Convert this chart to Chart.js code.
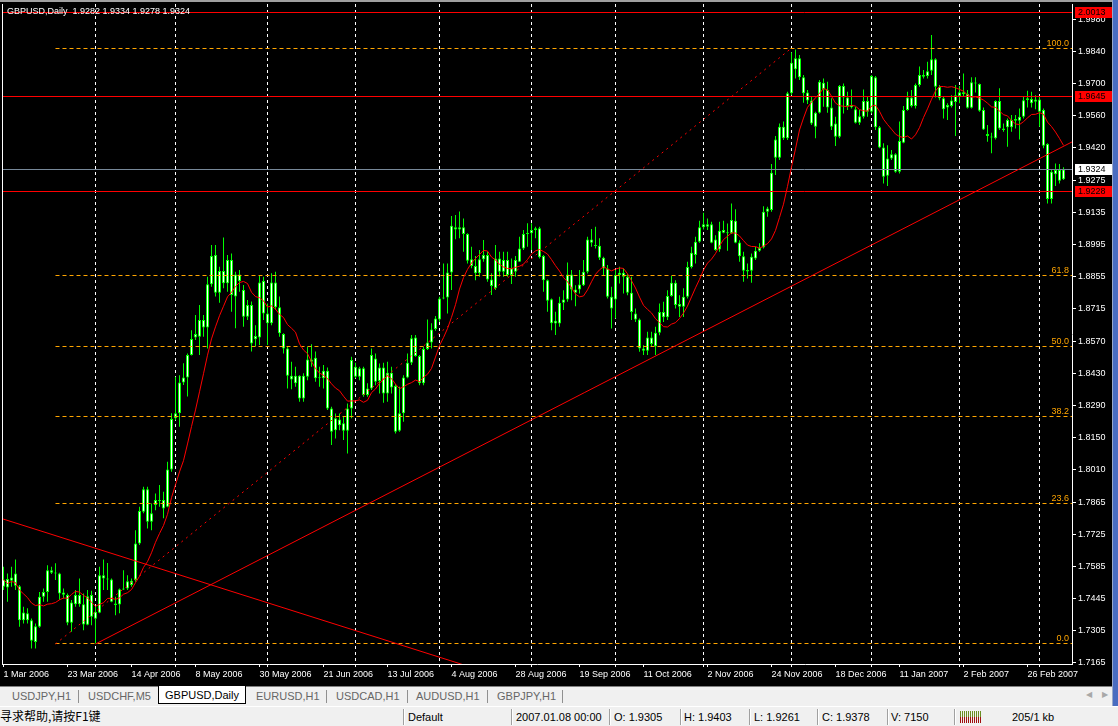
<!DOCTYPE html>
<html>
<head>
<meta charset="utf-8">
<title>GBPUSD,Daily</title>
<script src="https://cdn.jsdelivr.net/npm/chart.js@4.4.1/dist/chart.umd.min.js"></script>
<style>
  body { margin: 0; background: #d4d0c8; }
  #wrap { position: relative; width: 1118px; height: 726px; overflow: hidden; background: #f0f0f0; font-family: "Liberation Sans", Arial, sans-serif; }
  #topline { position: absolute; left: 0; top: 0; width: 1112px; height: 2px; background: #a0a0a0; }
  #chart { position: absolute; left: 0; top: 2px; background: #000; }
  #rside { position: absolute; left: 1112px; top: 0; width: 6px; height: 706px; background: #4a6cc0; border-left: 1px solid #9aa8c8; box-sizing: border-box; }
  #tabs { position: absolute; left: 0; top: 686px; width: 1112px; height: 20px; background: #f0f0f0; border-top: 1px solid #808080; box-sizing: border-box; }
  .tab { position: absolute; top: 2px; font-size: 11px; color: #666; line-height: 15px; white-space: nowrap; }
  .tab.active { top: -1px; height: 18px; line-height: 18px; background: #fff; color: #000; border: 1px solid #000; border-top: none; box-sizing: border-box; text-align: center; }
  .tsep { position: absolute; top: 3px; width: 1px; height: 13px; background: #909090; }
  .arr { position: absolute; top: 3px; font-size: 8px; color: #a8a8a8; }
  #status { position: absolute; left: 0; top: 706px; width: 1118px; height: 20px; background: #f0f0f0; border-top: 1px solid #fff; box-sizing: border-box; }
  .st { position: absolute; top: 3px; font-size: 11px; color: #000; line-height: 14px; white-space: nowrap; }
  .ssep { position: absolute; top: 2px; width: 1px; height: 16px; background: #a0a0a0; border-right: 1px solid #fff; }
  #conn { position: absolute; left: 960px; top: 4px; width: 22px; height: 12px;
          background: repeating-linear-gradient(90deg, transparent 0 1px, #f0f0f0 1px 2px),
                      linear-gradient(#6b8e23 0 50%, #a01010 50% 100%); }
</style>
</head>
<body>
<div id="wrap">
  <div id="topline"></div>
  <canvas id="chart" width="1112" height="684"></canvas>
  <div id="rside"></div>
  <div id="tabs">
    <div class="tab" style="left:12px">USDJPY,H1</div>
    <div class="tsep" style="left:78px"></div>
    <div class="tab" style="left:88px">USDCHF,M5</div>
    <div class="tab active" style="left:158px;width:88px">GBPUSD,Daily</div>
    <div class="tab" style="left:256px">EURUSD,H1</div>
    <div class="tsep" style="left:326px"></div>
    <div class="tab" style="left:336px">USDCAD,H1</div>
    <div class="tsep" style="left:407px"></div>
    <div class="tab" style="left:416px">AUDUSD,H1</div>
    <div class="tsep" style="left:487px"></div>
    <div class="tab" style="left:497px">GBPJPY,H1</div>
    <div class="tsep" style="left:562px"></div>
    <div class="arr" style="left:1086px">&#9664;</div>
    <div class="arr" style="left:1102px">&#9654;</div>
  </div>
  <div id="status">
    <div class="st" style="left:0px;font-family:'Noto Sans CJK SC',sans-serif;font-size:12px;top:2px">寻求帮助,请按F1键</div>
    <div class="ssep" style="left:403px"></div>
    <div class="st" style="left:408px">Default</div>
    <div class="ssep" style="left:511px"></div>
    <div class="st" style="left:516px">2007.01.08 00:00</div>
    <div class="ssep" style="left:609px"></div>
    <div class="st" style="left:614px">O: 1.9305</div>
    <div class="ssep" style="left:680px"></div>
    <div class="st" style="left:684px">H: 1.9403</div>
    <div class="ssep" style="left:749px"></div>
    <div class="st" style="left:754px">L: 1.9261</div>
    <div class="ssep" style="left:817px"></div>
    <div class="st" style="left:822px">C: 1.9378</div>
    <div class="ssep" style="left:887px"></div>
    <div class="st" style="left:891px">V: 7150</div>
    <div class="ssep" style="left:954px"></div>
    <div id="conn"></div>
    <div class="st" style="left:1012px">205/1 kb</div>
  </div>
</div>
<script>
// daily bars, 1 Mar 2006 .. 9 Mar 2007 (index 0..265)
const opens = [
  1.7497,1.7531,1.7524,1.7556,1.7500,1.7351,1.7381,1.7351,1.7256,1.7322,
  1.7454,1.7475,1.7570,1.7559,1.7556,1.7472,1.7461,1.7340,1.7421,1.7461,
  1.7421,1.7331,1.7461,1.7357,1.7384,1.7548,1.7534,1.7529,1.7424,1.7420,
  1.7486,1.7490,1.7524,1.7527,1.7687,1.7826,1.7924,1.7782,1.7855,1.7877,
  1.7877,1.7848,1.8011,1.8235,1.8257,1.8392,1.8414,1.8512,1.8589,1.8592,
  1.8665,1.8633,1.8822,1.8950,1.8785,1.8880,1.8826,1.8928,1.8768,1.8865,
  1.8797,1.8680,1.8731,1.8581,1.8589,1.8836,1.8694,1.8651,1.8830,1.8721,
  1.8604,1.8541,1.8421,1.8388,1.8421,1.8322,1.8417,1.8493,1.8500,1.8410,
  1.8410,1.8443,1.8278,1.8183,1.8230,1.8213,1.8181,1.8278,1.8461,1.8417,
  1.8454,1.8337,1.8366,1.8497,1.8398,1.8458,1.8344,1.8435,1.8376,1.8181,
  1.8257,1.8414,1.8478,1.8589,1.8508,1.8388,1.8538,1.8567,1.8626,1.8668,
  1.8760,1.8764,1.8873,1.9071,1.9062,1.9071,1.9042,1.8931,1.8902,1.8870,
  1.8931,1.8950,1.8843,1.8804,1.8935,1.8877,1.8928,1.8862,1.8877,1.8921,
  1.8979,1.9042,1.9045,1.9059,1.9067,1.8946,1.8840,1.8756,1.8650,1.8650,
  1.8741,1.8755,1.8865,1.8799,1.8799,1.8818,1.8877,1.9018,1.8993,1.8991,
  1.8938,1.8891,1.8767,1.8755,1.8862,1.8872,1.8855,1.8785,1.8694,1.8668,
  1.8541,1.8531,1.8589,1.8551,1.8610,1.8701,1.8677,1.8770,1.8828,1.8735,
  1.8723,1.8767,1.8898,1.8950,1.9008,1.9071,1.9085,1.9085,1.9018,1.8974,
  1.9059,1.9049,1.9045,1.9100,1.9005,1.8945,1.8884,1.8881,1.8935,1.8969,
  1.8983,1.9139,1.9147,1.9456,1.9376,1.9512,1.9461,1.9658,1.9811,1.9728,
  1.9728,1.9661,1.9626,1.9512,1.9573,1.9704,1.9672,1.9596,1.9526,1.9468,
  1.9690,1.9640,1.9607,1.9588,1.9529,1.9555,1.9624,1.9577,1.9728,1.9509,
  1.9421,1.9297,1.9373,1.9391,1.9315,1.9442,1.9585,1.9640,1.9602,1.9694,
  1.9738,1.9734,1.9757,1.9807,1.9687,1.9636,1.9596,1.9602,1.9620,1.9646,
  1.9663,1.9655,1.9595,1.9704,1.9699,1.9585,1.9480,1.9468,1.9461,1.9624,
  1.9504,1.9509,1.9541,1.9538,1.9538,1.9555,1.9628,1.9633,1.9621,1.9631,
  1.9585,1.9436,1.9195,1.9322,1.9322,1.9282
];
const highs = [
  1.7585,1.7556,1.7585,1.7617,1.7505,1.7410,1.7403,1.7359,1.7337,1.7475,
  1.7490,1.7592,1.7585,1.7600,1.7559,1.7490,1.7468,1.7439,1.7483,1.7534,
  1.7468,1.7483,1.7480,1.7410,1.7585,1.7617,1.7602,1.7534,1.7454,1.7490,
  1.7570,1.7548,1.7534,1.7745,1.7848,1.7935,1.7935,1.7862,1.7906,1.7943,
  1.7914,1.8045,1.8257,1.8417,1.8424,1.8476,1.8519,1.8621,1.8687,1.8731,
  1.8687,1.8855,1.8994,1.8994,1.8899,1.9027,1.8950,1.8957,1.8877,1.8884,
  1.8819,1.8753,1.8746,1.8643,1.8862,1.8855,1.8738,1.8870,1.8877,1.8768,
  1.8607,1.8548,1.8483,1.8461,1.8424,1.8432,1.8548,1.8559,1.8527,1.8461,
  1.8468,1.8458,1.8286,1.8256,1.8256,1.8242,1.8300,1.8505,1.8478,1.8461,
  1.8461,1.8388,1.8541,1.8519,1.8475,1.8478,1.8483,1.8461,1.8385,1.8373,
  1.8424,1.8519,1.8600,1.8600,1.8512,1.8548,1.8668,1.8651,1.8683,1.8767,
  1.8913,1.8913,1.9121,1.9125,1.9140,1.9110,1.9045,1.8986,1.8946,1.8972,
  1.9016,1.8964,1.8870,1.8994,1.8964,1.8964,1.8964,1.8935,1.8946,1.9030,
  1.9059,1.9089,1.9089,1.9074,1.9074,1.8950,1.8843,1.8760,1.8702,1.8767,
  1.8796,1.8917,1.8884,1.8818,1.8884,1.8928,1.9030,1.9064,1.9074,1.9023,
  1.8942,1.8906,1.8811,1.8884,1.8899,1.8891,1.8866,1.8855,1.8716,1.8672,
  1.8555,1.8614,1.8614,1.8636,1.8738,1.8745,1.8796,1.8858,1.8840,1.8774,
  1.8804,1.8920,1.8986,1.9030,1.9100,1.9135,1.9110,1.9096,1.9037,1.9096,
  1.9100,1.9088,1.9176,1.9150,1.9015,1.8964,1.8913,1.8957,1.8986,1.9001,
  1.9164,1.9161,1.9348,1.9471,1.9526,1.9534,1.9665,1.9838,1.9850,1.9826,
  1.9738,1.9672,1.9643,1.9577,1.9716,1.9723,1.9709,1.9636,1.9555,1.9694,
  1.9701,1.9665,1.9675,1.9599,1.9585,1.9675,1.9646,1.9738,1.9734,1.9515,
  1.9439,1.9431,1.9410,1.9395,1.9534,1.9602,1.9665,1.9672,1.9701,1.9775,
  1.9760,1.9796,1.9913,1.9811,1.9694,1.9646,1.9614,1.9650,1.9694,1.9690,
  1.9745,1.9672,1.9728,1.9728,1.9701,1.9596,1.9519,1.9485,1.9628,1.9680,
  1.9526,1.9548,1.9563,1.9563,1.9592,1.9646,1.9669,1.9665,1.9650,1.9643,
  1.9592,1.9439,1.9322,1.9351,1.9348,1.9334
];
const lows = [
  1.7483,1.7432,1.7497,1.7483,1.7322,1.7337,1.7337,1.7227,1.7227,1.7318,
  1.7432,1.7432,1.7553,1.7527,1.7439,1.7446,1.7329,1.7300,1.7410,1.7410,
  1.7307,1.7329,1.7329,1.7249,1.7381,1.7483,1.7483,1.7430,1.7373,1.7381,
  1.7483,1.7483,1.7497,1.7519,1.7680,1.7819,1.7753,1.7745,1.7833,1.7848,
  1.7797,1.7846,1.8001,1.8227,1.8198,1.8381,1.8330,1.8510,1.8578,1.8512,
  1.8592,1.8541,1.8811,1.8768,1.8741,1.8804,1.8789,1.8702,1.8629,1.8789,
  1.8636,1.8665,1.8527,1.8551,1.8556,1.8665,1.8556,1.8643,1.8709,1.8592,
  1.8519,1.8366,1.8362,1.8373,1.8308,1.8308,1.8402,1.8461,1.8395,1.8373,
  1.8366,1.8271,1.8118,1.8147,1.8183,1.8140,1.8081,1.8235,1.8410,1.8402,
  1.8329,1.8329,1.8359,1.8380,1.8344,1.8303,1.8308,1.8344,1.8169,1.8176,
  1.8220,1.8410,1.8468,1.8505,1.8380,1.8380,1.8534,1.8541,1.8618,1.8658,
  1.8756,1.8694,1.8797,1.9019,1.9023,1.8964,1.8913,1.8892,1.8840,1.8855,
  1.8921,1.8833,1.8775,1.8797,1.8855,1.8855,1.8855,1.8823,1.8855,1.8919,
  1.8972,1.8986,1.8972,1.9023,1.8935,1.8789,1.8702,1.8621,1.8600,1.8636,
  1.8709,1.8745,1.8752,1.8726,1.8782,1.8814,1.8869,1.8986,1.8979,1.8928,
  1.8862,1.8760,1.8628,1.8672,1.8825,1.8782,1.8774,1.8665,1.8657,1.8526,
  1.8512,1.8512,1.8548,1.8512,1.8599,1.8657,1.8665,1.8767,1.8716,1.8679,
  1.8679,1.8760,1.8891,1.8913,1.9004,1.9062,1.9059,1.9001,1.8969,1.8964,
  1.9045,1.8969,1.9042,1.9001,1.8920,1.8833,1.8847,1.8828,1.8928,1.8964,
  1.8979,1.9118,1.9139,1.9300,1.9366,1.9453,1.9453,1.9650,1.9723,1.9716,
  1.9617,1.9611,1.9519,1.9461,1.9570,1.9599,1.9573,1.9497,1.9427,1.9461,
  1.9570,1.9585,1.9592,1.9526,1.9519,1.9548,1.9555,1.9570,1.9497,1.9417,
  1.9263,1.9252,1.9366,1.9310,1.9307,1.9439,1.9582,1.9596,1.9592,1.9687,
  1.9723,1.9723,1.9738,1.9640,1.9628,1.9548,1.9541,1.9596,1.9471,1.9614,
  1.9643,1.9592,1.9592,1.9661,1.9577,1.9497,1.9446,1.9395,1.9456,1.9497,
  1.9490,1.9424,1.9490,1.9504,1.9456,1.9548,1.9596,1.9596,1.9588,1.9512,
  1.9417,1.9176,1.9176,1.9252,1.9263,1.9278
];
const closes = [
  1.7529,1.7494,1.7538,1.7502,1.7351,1.7385,1.7351,1.7261,1.7325,1.7454,
  1.7475,1.7570,1.7559,1.7556,1.7468,1.7462,1.7340,1.7429,1.7461,1.7421,
  1.7332,1.7456,1.7366,1.7388,1.7548,1.7534,1.7529,1.7432,1.7418,1.7487,
  1.7490,1.7522,1.7505,1.7687,1.7829,1.7924,1.7782,1.7819,1.7877,1.7873,
  1.7840,1.8011,1.8232,1.8257,1.8392,1.8414,1.8512,1.8582,1.8604,1.8665,
  1.8633,1.8822,1.8946,1.8785,1.8880,1.8826,1.8928,1.8775,1.8865,1.8836,
  1.8680,1.8731,1.8563,1.8595,1.8830,1.8694,1.8651,1.8830,1.8721,1.8607,
  1.8541,1.8421,1.8405,1.8421,1.8322,1.8421,1.8493,1.8483,1.8410,1.8414,
  1.8443,1.8278,1.8176,1.8235,1.8205,1.8181,1.8278,1.8490,1.8417,1.8454,
  1.8337,1.8366,1.8512,1.8395,1.8458,1.8344,1.8435,1.8370,1.8176,1.8257,
  1.8414,1.8478,1.8585,1.8508,1.8388,1.8538,1.8567,1.8624,1.8672,1.8760,
  1.8764,1.8873,1.9078,1.9062,1.9071,1.9042,1.8925,1.8902,1.8870,1.8931,
  1.8950,1.8843,1.8814,1.8935,1.8877,1.8928,1.8862,1.8892,1.8928,1.8979,
  1.9042,1.9045,1.9059,1.9067,1.8940,1.8840,1.8750,1.8651,1.8662,1.8741,
  1.8755,1.8865,1.8799,1.8785,1.8821,1.8877,1.9018,1.9004,1.8989,1.8938,
  1.8891,1.8767,1.8716,1.8862,1.8872,1.8855,1.8785,1.8701,1.8668,1.8541,
  1.8531,1.8589,1.8560,1.8610,1.8701,1.8677,1.8770,1.8828,1.8731,1.8723,
  1.8767,1.8898,1.8960,1.9008,1.9071,1.9085,1.9074,1.9004,1.8972,1.9056,
  1.9047,1.9045,1.9103,1.9004,1.8945,1.8881,1.8878,1.8942,1.8969,1.8983,
  1.9139,1.9154,1.9310,1.9376,1.9512,1.9461,1.9658,1.9792,1.9763,1.9811,
  1.9658,1.9626,1.9526,1.9573,1.9709,1.9675,1.9596,1.9512,1.9468,1.9690,
  1.9640,1.9602,1.9597,1.9529,1.9558,1.9624,1.9577,1.9734,1.9509,1.9421,
  1.9293,1.9373,1.9391,1.9315,1.9449,1.9585,1.9640,1.9602,1.9694,1.9738,
  1.9731,1.9755,1.9807,1.9687,1.9636,1.9588,1.9607,1.9626,1.9649,1.9663,
  1.9655,1.9595,1.9706,1.9701,1.9582,1.9500,1.9471,1.9465,1.9624,1.9504,
  1.9497,1.9541,1.9509,1.9545,1.9555,1.9628,1.9636,1.9614,1.9631,1.9577,
  1.9428,1.9195,1.9315,1.9304,1.9275,1.9324
];

// time axis labels, one every 16 bars
const dateLabels = ['1 Mar 2006', '23 Mar 2006', '14 Apr 2006', '8 May 2006', '30 May 2006',
  '21 Jun 2006', '13 Jul 2006', '4 Aug 2006', '28 Aug 2006', '19 Sep 2006', '11 Oct 2006',
  '2 Nov 2006', '24 Nov 2006', '18 Dec 2006', '11 Jan 2007', '2 Feb 2007', '26 Feb 2007'];
// bars where a new month starts (vertical grid)
const monthStarts = [23, 43, 66, 88, 109, 132, 153, 175, 197, 217, 239, 259];
// price scale labels
const priceTicks = [1.9980, 1.9840, 1.9700, 1.9560, 1.9420, 1.9275, 1.9135, 1.8995, 1.8855, 1.8715,
  1.8570, 1.8430, 1.8290, 1.8150, 1.8010, 1.7865, 1.7725, 1.7585, 1.7445, 1.7305, 1.7165];

// objects on the chart
const hLines = [2.0013, 1.9645, 1.9228];
const bidPrice = 1.9324;
const fibLevels = [0, 23.6, 38.2, 50.0, 61.8, 100.0];
const fibFrom = [13, 1.7247];
const fibTo = [197, 1.9856];
const trendUp = [[23, 1.7247], [270, 1.9471]];
const trendDown = [[-1, 1.7799], [120, 1.7128]];
const maPeriod = 10;

const FONT = '9px "Liberation Sans", Arial, sans-serif';
const LIME = '#00ff00';
const X_MIN = -0.375, X_MAX = 267.125;

const idx = closes.map((c, i) => i);
const labelIdx = dateLabels.map((d, k) => k * 16);
const xTicks = [...new Set([...labelIdx, ...monthStarts])].sort((a, b) => a - b);

const ma = idx.map(i => {
  const from = Math.max(0, i - maPeriod + 1);
  const win = closes.slice(from, i + 1);
  return { x: i, y: win.reduce((s, v) => s + v, 0) / win.length };
});

const fibPrice = l => fibFrom[1] + (fibTo[1] - fibFrom[1]) * l / 100;

function lineSet(points, color, extra) {
  return Object.assign({
    type: 'line',
    data: points.map(p => ({ x: p[0], y: p[1] })),
    borderColor: color,
    borderWidth: 1,
    pointRadius: 0,
    fill: false,
    tension: 0
  }, extra || {});
}

const datasets = [
  Object.assign(lineSet([], '#ff0000', { order: 0 }), { data: ma }),
  lineSet(trendUp, '#ff0000', { order: 1 }),
  lineSet(trendDown, '#ff0000', { order: 1 }),
  lineSet([fibFrom, fibTo], '#ff0000', { order: 1, borderDash: [2, 4] }),
  ...hLines.map(p => lineSet([[X_MIN, p], [X_MAX, p]], '#ff0000', { order: 1, snapY: true })),
  lineSet([[X_MIN, bidPrice], [X_MAX, bidPrice]], '#778899', { order: 1, snapY: true }),
  ...fibLevels.map(l => lineSet([[fibFrom[0], fibPrice(l)], [X_MAX, fibPrice(l)]], '#ffa500', { order: 1, borderDash: [4, 3], snapY: true })),
  {
    type: 'bar',
    order: 2,
    data: idx.map(i => ({ x: i, y: [opens[i], closes[i]] })),
    backgroundColor: '#ffffff',
    borderColor: LIME,
    borderWidth: 1,
    borderSkipped: false,
    inflateAmount: 0,
    minBarLength: 1,
    grouped: false,
    barPercentage: 1,
    categoryPercentage: 1,
    maxBarThickness: 3
  },
  {
    type: 'bar',
    order: 3,
    data: idx.map(i => ({ x: i, y: [lows[i], highs[i]] })),
    backgroundColor: LIME,
    borderWidth: 0,
    inflateAmount: 0,
    grouped: false,
    barPercentage: 1,
    categoryPercentage: 1,
    maxBarThickness: 1
  }
];

// keep horizontal levels on whole pixel rows so they stay sharp
const snapLines = {
  id: 'snapLines',
  beforeDatasetDraw(chart, args) {
    const ds = chart.data.datasets[args.index];
    if (!ds.snapY) return;
    const py = chart.scales.y.getPixelForValue(ds.data[0].y);
    chart.ctx.save();
    chart.ctx.translate(0, Math.floor(py) + 0.5 - py);
  },
  afterDatasetDraw(chart, args) {
    if (chart.data.datasets[args.index].snapY) chart.ctx.restore();
  }
};

const overlay = {
  id: 'overlay',
  afterDraw(chart) {
    const { ctx, chartArea: a, scales: { y } } = chart;
    const last = closes.length - 1;
    ctx.save();
    ctx.strokeStyle = '#fff';
    ctx.lineWidth = 1;
    ctx.beginPath();
    ctx.moveTo(a.left + 0.5, a.top);
    ctx.lineTo(a.left + 0.5, a.bottom);
    ctx.stroke();

    ctx.font = FONT;
    ctx.fillStyle = '#ffa500';
    ctx.textAlign = 'right';
    ctx.textBaseline = 'alphabetic';
    fibLevels.forEach(l => {
      ctx.fillText(l.toFixed(1), a.right - 3, Math.floor(y.getPixelForValue(fibPrice(l))) - 2);
    });

    ctx.fillStyle = '#fff';
    ctx.textAlign = 'left';
    ctx.textBaseline = 'middle';
    ctx.fillText('GBPUSD,Daily  ' + [opens[last], highs[last], lows[last], closes[last]].map(v => v.toFixed(4)).join(' '), 7, 10);

    const tags = hLines.map(p => ({ p, bg: '#ff0000' })).concat([{ p: bidPrice, bg: '#ffffff' }]);
    tags.forEach(t => {
      const py = Math.floor(y.getPixelForValue(t.p));
      ctx.fillStyle = t.bg;
      ctx.fillRect(a.right + 3, py - 5, chart.width - a.right - 3, 11);
      ctx.fillStyle = '#000';
      ctx.fillText(t.p.toFixed(4), a.right + 6, py + 0.5);
    });
    ctx.restore();
  }
};

new Chart(document.getElementById('chart'), {
  type: 'bar',
  data: { datasets },
  options: {
    responsive: false,
    animation: false,
    devicePixelRatio: 1,
    layout: { padding: { left: 2, top: 2, right: 0, bottom: 0 } },
    plugins: { legend: { display: false }, tooltip: { enabled: false } },
    scales: {
      x: {
        type: 'linear',
        position: 'bottom',
        offset: false,
        min: X_MIN,
        max: X_MAX,
        afterBuildTicks: ax => { ax.ticks = xTicks.map(v => ({ value: v })); },
        afterFit: ax => { ax.height = 22; ax.paddingLeft = 0; ax.paddingRight = 0; },
        ticks: {
          autoSkip: false,
          maxRotation: 0,
          minRotation: 0,
          align: 'start',
          padding: 2,
          color: '#fff',
          font: { family: '"Liberation Sans", Arial, sans-serif', size: 9 },
          callback: v => {
            const k = labelIdx.indexOf(v);
            return k >= 0 ? dateLabels[k] : '';
          }
        },
        grid: {
          offset: false,
          color: c => (c.tick && monthStarts.includes(c.tick.value)) ? '#ffffff' : 'rgba(0,0,0,0)',
          tickColor: '#fff',
          tickLength: 3,
          lineWidth: 1
        },
        border: { color: '#fff', dash: [3, 3] }
      },
      y: {
        type: 'linear',
        position: 'right',
        min: 1.71593,
        max: 2.0049,
        afterBuildTicks: ax => { ax.ticks = priceTicks.map(v => ({ value: v })); },
        afterFit: ax => { ax.width = 40; ax.paddingTop = 0; ax.paddingBottom = 0; },
        ticks: {
          padding: 2,
          color: '#fff',
          font: { family: '"Liberation Sans", Arial, sans-serif', size: 9 },
          callback: v => v.toFixed(4)
        },
        grid: { drawOnChartArea: false, tickColor: '#fff', tickLength: 4 },
        border: { color: '#fff' }
      }
    }
  },
  plugins: [snapLines, overlay]
});
</script>
</body>
</html>
